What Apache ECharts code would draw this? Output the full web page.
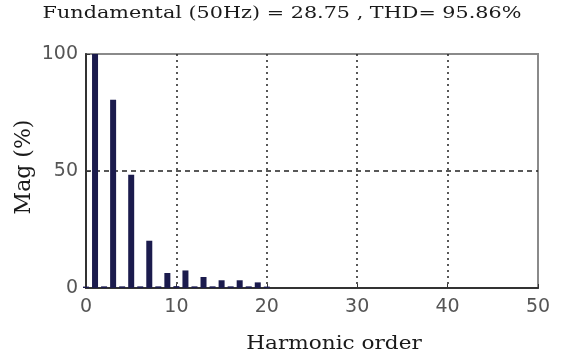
<!DOCTYPE html>
<html>
<head>
<meta charset="utf-8">
<script src="https://cdn.jsdelivr.net/npm/echarts@6/dist/echarts.min.js"></script>
<style>
  html, body { margin: 0; padding: 0; background: #fff; }
  #chart { width: 579px; height: 361px; }
</style>
</head>
<body>
<div id="chart"></div>
<script>
// harmonic spectrum
var harmonicOrder = [0, 1, 2, 3, 4, 5, 6, 7, 8, 9, 10, 11, 12, 13, 14, 15, 16, 17, 18, 19, 20];
var magnitude = [0.6, 100, 0.7, 80.4, 0.7, 48.4, 0.7, 20.2, 0.7, 6.4, 0.8, 7.5, 0.7, 4.7, 0.7, 3.3, 0.7, 3.3, 0.7, 2.4, 0.6];
var xTicks = [0, 10, 20, 30, 40, 50];
var yTicks = [0, 50, 100];
var titleText = 'Fundamental (50Hz) = 28.75 , THD= 95.86%';
var xName = 'Harmonic order';
var yName = 'Mag (%)';

var barData = [];
for (var i = 0; i < harmonicOrder.length; i++) {
  barData.push([harmonicOrder[i], magnitude[i]]);
}

var serif = 'DejaVu Serif';
var chart = echarts.init(document.getElementById('chart'));
chart.setOption({
  animation: false,
  backgroundColor: '#fff',
  // the picture's text is stretched sideways, so texts are drawn as graphic with scaleX
  graphic: [
    {
      type: 'text', x: 282, y: 14, scaleX: 1.22,
      style: { text: titleText, fontFamily: serif, fontSize: 17, fill: '#1a1a1a', align: 'center', verticalAlign: 'middle' }
    },
    {
      type: 'text', x: 334, y: 344, scaleX: 1.2,
      style: { text: xName, fontFamily: serif, fontSize: 18, fill: '#1a1a1a', align: 'center', verticalAlign: 'middle' }
    },
    {
      type: 'text', x: 24, y: 167, rotation: Math.PI / 2,
      style: { text: yName, fontFamily: serif, fontSize: 22, fill: '#1a1a1a', align: 'center', verticalAlign: 'middle' }
    }
  ],
  grid: {
    left: 86, top: 54, right: 41, bottom: 73,
    show: true, borderColor: '#8a8a8a', borderWidth: 2
  },
  xAxis: {
    type: 'value',
    min: xTicks[0], max: xTicks[xTicks.length - 1], interval: 10,
    axisLine: { show: true, lineStyle: { color: '#333', width: 2 } },
    axisTick: { show: true, inside: true, length: 4, lineStyle: { color: '#333' } },
    axisLabel: { fontFamily: 'DejaVu Sans', fontSize: 19, color: '#555', margin: 10 },
    splitLine: { show: true, showMinLine: false, showMaxLine: false, lineStyle: { color: '#222', type: [2, 4], width: 1.5 } }
  },
  yAxis: {
    type: 'value',
    min: yTicks[0], max: yTicks[yTicks.length - 1], interval: 50,
    axisLine: { show: true, lineStyle: { color: '#333', width: 2 } },
    axisTick: { show: true, inside: true, length: 4, lineStyle: { color: '#333' } },
    axisLabel: { fontFamily: 'DejaVu Sans', fontSize: 19, color: '#555', margin: 8 },
    splitLine: { show: true, showMinLine: false, showMaxLine: false, lineStyle: { color: '#222', type: [5, 4], width: 1.5 } }
  },
  series: [{
    type: 'bar',
    data: barData,
    barWidth: 6,
    itemStyle: { color: '#1b1b4d' }
  }]
});
</script>
</body>
</html>
